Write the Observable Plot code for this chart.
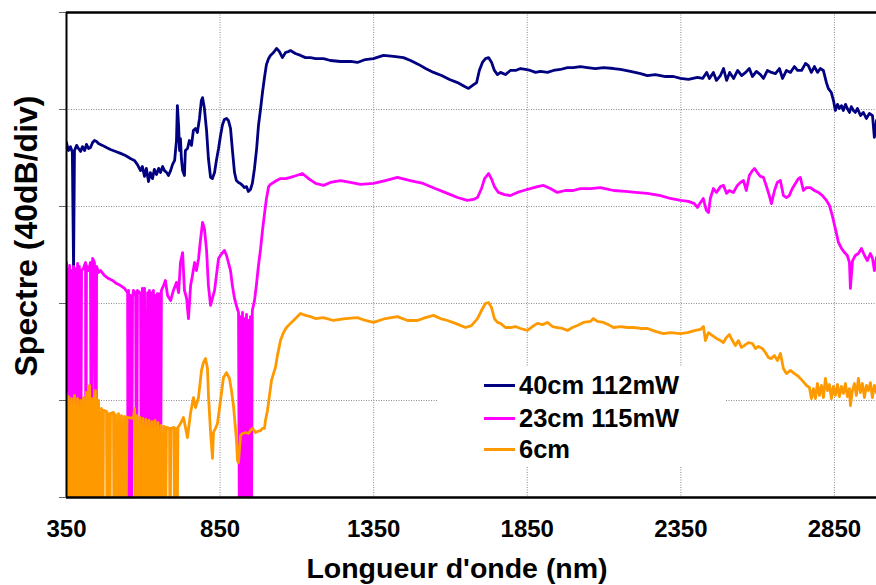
<!DOCTYPE html>
<html><head><meta charset="utf-8">
<script src="https://cdn.jsdelivr.net/npm/d3@7"></script>
<script src="https://cdn.jsdelivr.net/npm/@observablehq/plot@0.6"></script>
<style>
body{margin:0;background:#fff;}
#wrap{position:relative;width:876px;height:585px;font-family:"Liberation Sans",Arial,sans-serif;font-weight:bold;color:#000;}
.ttl{position:absolute;white-space:nowrap;transform:translate(-50%,-50%);}
#legend{position:absolute;left:438px;top:367px;width:288px;height:99px;background:#fff;}
.li{position:absolute;left:46px;height:26px;width:240px;}
.sw{position:absolute;left:0;top:11.5px;width:31px;height:3px;}
.lt{position:absolute;left:35px;top:0;font-size:25.5px;line-height:26px;}
</style></head>
<body><div id="wrap"></div>
<script>
const xTicks = [350, 850, 1350, 1850, 2350, 2850];
const yTicks = [0, 40, 80, 120, 160, 200];
const seriesNames = ["40cm 112mW", "23cm 115mW", "6cm"];
const seriesColors = ["#000080", "#FF00FF", "#FF9900"];
const xTitle = "Longueur d'onde (nm)";
const yTitle = "Spectre (40dB/div)";

// [wavelength nm, level dB]; -20 = signal below the floor of the chart
const spec40 = [[350,146.4],[356,143.1],[363,144.7],[369,142.3],[373,94.4],[376,143.1],[383,145.2],[389,143.9],[396,142.7],[402,144.7],[409,143.1],[415,145.6],[422,143.9],[428,144.3],[435,146.4],[441,147.2],[448,146.8],[454,146.0],[467,145.2],[480,144.3],[493,143.5],[510,142.7],[526,141.9],[542,141.0],[558,139.8],[571,139.0],[581,137.3],[591,134.8],[597,136.5],[604,132.4],[610,135.7],[617,130.3],[623,134.0],[630,131.5],[636,135.3],[643,133.2],[650,135.7],[656,134.0],[663,136.5],[669,134.8],[676,134.0],[682,132.8],[689,134.8],[695,137.3],[702,139.0],[708,147.2],[711,161.6],[715,153.4],[718,143.1],[721,148.0],[724,139.8],[728,134.8],[734,132.8],[737,143.1],[744,143.9],[750,147.2],[757,145.2],[763,151.3],[770,152.2],[776,150.5],[783,156.3],[789,163.7],[793,164.9],[799,160.4],[806,151.3],[812,139.8],[819,132.0],[825,131.5],[832,134.0],[838,139.0],[845,143.9],[851,148.9],[858,153.8],[864,155.9],[871,156.3],[877,155.5],[884,152.2],[890,143.5],[897,134.0],[903,130.7],[910,129.9],[916,129.5],[923,128.7],[929,127.8],[936,128.2],[942,126.2],[949,127.0],[955,129.5],[962,135.7],[969,143.9],[975,153.4],[982,160.4],[988,167.0],[995,173.6],[1001,178.6],[1008,181.0],[1014,182.3],[1024,183.5],[1034,185.2],[1043,183.9],[1053,181.4],[1063,183.5],[1073,183.9],[1079,184.3],[1095,183.1],[1112,182.3],[1128,181.4],[1144,181.4],[1161,181.0],[1187,181.0],[1209,180.2],[1242,179.8],[1275,179.8],[1297,179.4],[1323,180.6],[1349,181.0],[1382,182.3],[1415,181.9],[1447,181.4],[1470,180.2],[1496,178.6],[1519,176.9],[1545,175.3],[1571,174.0],[1597,172.4],[1623,171.1],[1646,169.5],[1659,168.7],[1672,169.9],[1685,171.1],[1694,176.1],[1704,179.4],[1714,181.0],[1724,181.4],[1734,179.4],[1743,176.1],[1753,174.4],[1763,175.3],[1779,174.4],[1795,176.1],[1812,176.1],[1828,176.9],[1844,176.5],[1860,176.1],[1877,175.3],[1893,175.7],[1916,175.3],[1935,176.1],[1958,176.5],[1981,177.3],[2000,177.3],[2023,177.7],[2046,177.3],[2072,176.9],[2098,177.3],[2131,176.9],[2153,176.5],[2186,175.7],[2219,174.8],[2241,174.0],[2267,174.4],[2300,173.6],[2326,173.6],[2349,172.8],[2375,172.4],[2404,173.2],[2421,172.8],[2434,175.3],[2443,172.8],[2456,175.3],[2466,172.0],[2479,174.0],[2489,176.9],[2499,172.0],[2509,175.3],[2522,172.8],[2535,176.1],[2548,174.0],[2561,175.3],[2573,176.9],[2583,173.6],[2596,175.7],[2609,174.4],[2619,172.8],[2632,176.1],[2645,175.3],[2658,174.8],[2671,176.9],[2681,172.8],[2694,176.1],[2707,175.3],[2720,177.7],[2730,176.1],[2743,176.1],[2756,179.0],[2765,178.1],[2775,175.3],[2785,177.7],[2795,175.3],[2804,176.9],[2814,176.1],[2824,171.1],[2830,168.7],[2840,167.0],[2847,163.7],[2853,159.6],[2860,162.1],[2866,160.4],[2873,161.6],[2879,159.6],[2886,162.1],[2892,160.4],[2899,158.8],[2905,161.2],[2912,159.6],[2918,158.8],[2925,160.4],[2935,157.5],[2944,158.8],[2954,156.3],[2964,158.4],[2974,157.5],[2980,148.5],[2987,155.5]];

const spec23 = [[350,96.9],[352,-20],[353,94.4],[357,-20],[360,95.7],[363,-20],[366,93.6],[370,-20],[373,95.3],[376,-20],[379,94.4],[383,-20],[386,96.5],[389,-20],[392,95.3],[396,-20],[399,93.6],[405,94.4],[412,96.9],[413,-20],[415,95.7],[422,93.6],[428,96.9],[431,-20],[435,98.6],[441,96.9],[446,-20],[448,95.3],[454,92.8],[461,93.6],[474,91.5],[487,90.3],[500,89.5],[513,88.2],[526,87.4],[539,86.2],[549,84.5],[550,-20],[552,85.4],[555,-20],[558,83.3],[562,-20],[565,82.5],[568,85.4],[575,84.1],[578,-20],[581,85.4],[591,84.1],[594,-20],[597,86.2],[601,-20],[604,86.2],[610,-20],[614,84.5],[617,-20],[620,85.4],[623,-20],[627,84.5],[630,-20],[633,85.4],[636,-20],[640,83.3],[643,-20],[646,84.1],[649,-20],[653,84.1],[656,-20],[659,85.4],[666,87.4],[672,89.5],[679,83.3],[689,81.2],[698,85.4],[708,88.7],[715,84.5],[721,96.9],[728,101.0],[734,85.4],[741,82.1],[747,73.8],[754,87.4],[760,91.5],[767,96.9],[773,93.6],[780,98.6],[786,106.0],[793,113.4],[799,110.9],[806,101.9],[812,87.4],[819,79.2],[825,82.1],[832,85.4],[838,91.5],[845,98.6],[851,99.8],[858,101.0],[864,101.9],[871,99.8],[877,96.9],[884,93.6],[890,87.4],[897,82.1],[903,79.2],[910,76.3],[913,-20],[916,74.6],[920,-20],[923,76.3],[926,-20],[929,73.8],[933,-20],[936,75.5],[939,-20],[942,73.0],[946,-20],[949,74.6],[952,-20],[955,77.1],[962,81.2],[968,87.4],[975,95.7],[982,102.7],[988,110.1],[995,117.5],[1001,123.3],[1008,128.2],[1014,129.1],[1024,129.9],[1034,130.7],[1047,131.5],[1063,131.5],[1079,132.0],[1099,132.8],[1118,133.6],[1138,131.5],[1161,129.5],[1187,128.7],[1209,129.9],[1242,130.7],[1274,129.9],[1307,129.1],[1349,129.5],[1388,130.7],[1427,132.0],[1469,130.7],[1511,129.5],[1550,127.4],[1590,125.4],[1623,123.7],[1655,122.5],[1675,122.9],[1688,123.7],[1701,127.4],[1711,131.5],[1724,133.6],[1733,131.5],[1743,128.2],[1756,125.8],[1776,124.9],[1795,124.5],[1818,125.8],[1838,126.6],[1860,127.4],[1883,128.2],[1903,128.7],[1925,127.4],[1948,125.8],[1974,126.6],[2000,126.6],[2023,127.4],[2056,127.4],[2088,127.8],[2131,126.6],[2170,126.2],[2202,125.8],[2241,125.4],[2284,124.5],[2316,123.3],[2349,122.5],[2375,122.1],[2394,121.2],[2404,119.6],[2414,121.6],[2423,123.3],[2433,118.4],[2440,117.5],[2446,123.3],[2456,127.4],[2466,125.8],[2479,128.2],[2489,128.7],[2499,125.4],[2508,126.6],[2521,125.8],[2534,128.7],[2544,129.9],[2554,130.7],[2563,126.6],[2573,132.8],[2583,134.8],[2590,135.7],[2599,134.0],[2609,132.4],[2619,132.0],[2629,128.2],[2638,124.5],[2645,121.2],[2655,126.6],[2664,129.9],[2674,130.7],[2684,124.5],[2694,123.7],[2703,124.5],[2713,127.4],[2723,129.5],[2733,131.5],[2739,132.0],[2749,126.6],[2759,127.8],[2772,127.8],[2785,126.6],[2798,125.8],[2811,124.5],[2824,122.5],[2834,120.4],[2843,116.3],[2853,110.9],[2863,105.2],[2873,102.7],[2883,101.0],[2892,99.8],[2899,96.9],[2902,86.2],[2909,97.7],[2918,99.8],[2928,100.6],[2938,102.7],[2948,99.8],[2957,97.7],[2967,100.6],[2974,98.6],[2980,93.6],[2987,99.0]];

const spec6 = [[350.0,42.9],[353.3,-20],[356.5,41.6],[361.4,-20],[366.3,40.8],[371.2,-20],[376.0,42.1],[380.9,-20],[385.8,40.8],[390.7,-20],[395.6,40.0],[400.5,-20],[405.3,41.2],[410.2,-20],[415.1,43.3],[420.0,-20],[424.9,46.2],[429.8,-20],[434.6,40.8],[439.5,-20],[444.4,44.1],[449.3,-20],[454.2,40.0],[459.0,-20],[463.9,36.7],[468.8,-20],[470.4,35.9],[480.2,35.5],[481.8,-20],[486.7,34.6],[491.6,-20],[493.2,34.6],[503.0,35.1],[504.6,-20],[509.5,34.2],[514.4,-20],[519.3,34.6],[524.2,-20],[529.0,33.8],[533.9,-20],[538.8,33.4],[543.7,-20],[546.9,33.0],[568.1,32.6],[571.4,36.7],[574.6,-20],[579.5,33.8],[584.4,-20],[589.3,33.0],[594.1,-20],[599.0,32.6],[603.9,-20],[608.8,32.2],[613.7,-20],[618.6,31.8],[623.4,-20],[628.3,31.3],[633.2,-20],[638.1,31.8],[643.0,-20],[647.8,30.9],[652.7,-20],[657.6,29.7],[662.5,-20],[667.4,29.3],[672.3,-20],[675.5,28.9],[685.3,28.5],[686.9,-20],[690.2,28.5],[699.9,28.9],[701.6,-20],[704.8,28.5],[709.7,-20],[713.0,28.9],[721.1,30.5],[730.9,33.0],[743.9,24.7],[753.6,34.6],[763.4,41.2],[769.9,37.1],[779.7,41.2],[789.5,52.4],[796.0,55.7],[802.5,57.3],[809.0,53.2],[812.2,42.1],[818.7,27.6],[825.3,16.1],[828.5,26.8],[835.0,28.5],[841.5,30.5],[851.3,40.0],[861.1,49.5],[870.8,51.5],[880.6,49.1],[887.1,44.1],[893.6,37.9],[900.1,28.5],[903.4,23.5],[906.6,15.3],[909.9,14.4],[916.4,25.6],[922.9,26.4],[932.7,26.8],[942.4,26.4],[949.0,27.6],[955.5,28.5],[965.2,26.8],[971.7,27.2],[981.5,27.6],[988.0,28.5],[994.5,28.5],[997.8,31.8],[1004.3,35.9],[1010.8,42.1],[1017.3,48.2],[1023.8,51.1],[1030.3,53.6],[1036.8,58.6],[1046.6,64.7],[1056.4,68.0],[1066.1,70.1],[1079.2,71.8],[1095.4,73.8],[1111.7,75.9],[1128.0,75.1],[1144.3,74.6],[1160.5,73.8],[1186.6,74.2],[1219.1,73.0],[1258.2,73.8],[1297.3,74.2],[1323.3,73.0],[1349.3,72.2],[1388.4,73.8],[1427.5,74.6],[1460.0,73.0],[1492.6,73.0],[1518.6,74.2],[1544.7,75.1],[1567.4,73.8],[1590.2,73.0],[1616.3,71.8],[1648.8,70.1],[1668.4,70.9],[1687.9,73.8],[1700.9,77.1],[1713.9,80.0],[1723.7,80.4],[1733.5,78.4],[1743.2,73.8],[1753.0,72.2],[1762.8,71.8],[1779.0,70.1],[1795.3,70.1],[1811.6,70.5],[1827.9,69.7],[1850.6,68.9],[1866.9,70.5],[1883.2,71.8],[1899.5,71.3],[1915.7,72.2],[1932.0,70.5],[1948.3,70.1],[1964.6,69.7],[1980.9,68.9],[1997.1,70.1],[2013.4,70.9],[2032.9,72.2],[2055.7,72.6],[2065.5,73.8],[2078.5,72.6],[2098.0,72.2],[2114.3,71.3],[2130.6,70.1],[2153.4,70.5],[2176.2,70.1],[2195.7,70.1],[2218.5,69.7],[2241.3,69.7],[2267.3,68.5],[2293.3,67.6],[2316.1,68.0],[2348.7,67.6],[2371.5,68.0],[2397.5,68.9],[2413.8,69.3],[2423.6,70.5],[2430.1,64.7],[2439.8,68.0],[2452.9,66.8],[2465.9,65.6],[2478.9,64.7],[2488.7,63.9],[2498.4,66.0],[2508.2,67.2],[2518.0,64.7],[2527.7,62.7],[2537.5,64.7],[2547.3,61.9],[2557.0,62.7],[2570.0,63.9],[2583.1,63.5],[2592.8,61.4],[2602.6,62.3],[2615.6,61.4],[2625.4,59.8],[2635.2,57.7],[2644.9,57.3],[2654.7,58.6],[2664.4,56.5],[2674.2,59.4],[2684.0,53.2],[2693.7,51.1],[2706.8,52.4],[2719.8,51.1],[2732.8,49.9],[2745.8,48.2],[2758.8,46.2],[2768.6,45.4],[2775.1,40.8],[2781.6,44.9],[2788.1,40.8],[2794.7,47.0],[2801.2,42.1],[2807.7,46.2],[2814.2,41.2],[2820.7,49.1],[2827.2,44.1],[2833.7,46.6],[2840.2,40.8],[2846.7,45.8],[2853.2,42.1],[2859.8,46.6],[2866.3,41.6],[2872.8,45.8],[2879.3,42.9],[2885.8,47.0],[2892.3,41.6],[2898.8,44.9],[2902.1,37.9],[2908.6,44.1],[2915.1,47.0],[2921.6,42.1],[2928.1,49.1],[2934.6,43.3],[2941.1,47.0],[2947.7,41.2],[2954.2,46.2],[2960.7,44.1],[2967.2,47.4],[2973.7,41.2],[2980.2,46.2],[2986.7,43.3]];

const series = [spec40, spec23, spec6];
const toRows = (arr) => arr.map(([wl, db]) => ({wl, db}));

const lineMarks = series.map((s, i) => Plot.line(toRows(s), {
  x: "wl", y: "db", stroke: seriesColors[i], strokeWidth: 2.8, clip: true
}));

const chart = Plot.plot({
  width: 876, height: 585,
  marginLeft: 66, marginRight: 0, marginTop: 12, marginBottom: 88,
  style: {background: "#fff", fontFamily: "'Liberation Sans', Arial, sans-serif", color: "#000", overflow: "visible"},
  x: {domain: [350, 2987]},
  y: {domain: [0, 200]},
  marks: [
    Plot.gridX(xTicks.slice(1), {stroke: "#8a8a8a", strokeOpacity: 1, strokeDasharray: "1,1.5"}),
    Plot.gridY(yTicks.slice(1, -1), {stroke: "#8a8a8a", strokeOpacity: 1, strokeDasharray: "1,1.5"}),
    ...lineMarks,
    Plot.axisY({ticks: yTicks, tickSize: 7, tickFormat: () => "", stroke: "#666", label: null}),
    Plot.axisX({ticks: xTicks, tickSize: 0, tickPadding: 22, fontSize: 24, fontWeight: "bold", label: null, tickFormat: d => String(d)}),
    Plot.ruleX([350], {stroke: "#000", strokeWidth: 2}),
    Plot.ruleY([0], {stroke: "#000", strokeWidth: 2.5}),
    Plot.ruleY([200], {stroke: "#000", strokeWidth: 2.5})
  ]
});

const wrap = document.getElementById("wrap");
wrap.appendChild(chart);

const xt = document.createElement("div");
xt.className = "ttl"; xt.textContent = xTitle;
xt.style.left = "457px"; xt.style.top = "568px"; xt.style.fontSize = "28.5px";
wrap.appendChild(xt);

const yt = document.createElement("div");
yt.className = "ttl"; yt.textContent = yTitle;
yt.style.left = "26px"; yt.style.top = "236px"; yt.style.fontSize = "32px";
yt.style.transform = "translate(-50%,-50%) rotate(-90deg)";
wrap.appendChild(yt);

const lg = document.createElement("div");
lg.id = "legend";
const legendTops = [372, 405, 436];
seriesNames.forEach((name, i) => {
  const it = document.createElement("div");
  it.className = "li"; it.style.top = (legendTops[i] - 367) + "px";
  const sw = document.createElement("div");
  sw.className = "sw"; sw.style.background = seriesColors[i];
  const t = document.createElement("div");
  t.className = "lt"; t.textContent = name;
  it.appendChild(sw); it.appendChild(t);
  lg.appendChild(it);
});
wrap.appendChild(lg);
</script>
</body></html>
